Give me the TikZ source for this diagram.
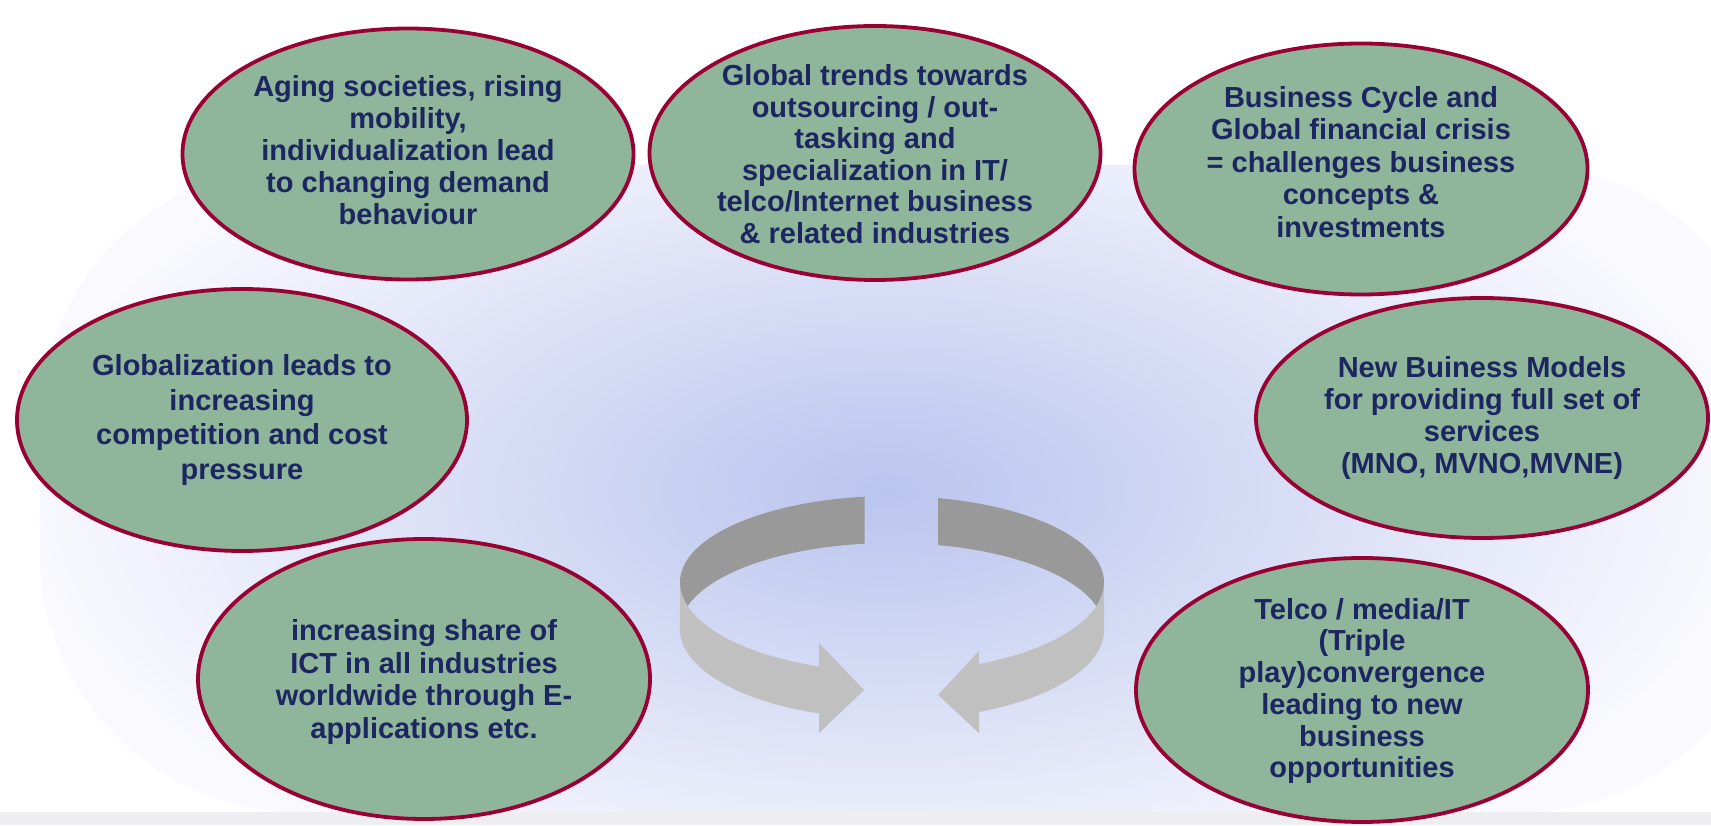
\documentclass[tikz,border=0pt]{standalone}
\usepackage{fontspec}
\setmainfont{Liberation Sans}
\usetikzlibrary{shapes.geometric}
\definecolor{ellfill}{RGB}{143,181,154}
\definecolor{ellline}{RGB}{153,0,51}
\definecolor{txt}{RGB}{28,38,96}
\definecolor{glow}{RGB}{186,197,238}
\definecolor{pale}{RGB}{250,250,254}
\definecolor{strip}{RGB}{238,238,241}
\definecolor{ringdark}{RGB}{153,153,153}
\definecolor{ringlight}{RGB}{192,192,192}
\begin{document}
\begin{tikzpicture}[x=1pt,y=1pt,
  bubble/.style={ellipse, draw=ellline, fill=ellfill, line width=3.8pt, inner sep=0pt},
  btxt/.style={text=txt, font=\bfseries\fontsize{29}{#1}\selectfont, align=center, inner sep=0pt},
  btxt/.default=32
]
\useasboundingbox (0,0) rectangle (1711,825);
\fill[white] (0,0) rectangle (1711,825);
\begin{scope}
  \clip[rounded corners=260pt] (40,13) rectangle (1780,660);
  \fill[pale] (0,0) rectangle (1711,825);
  \shade[inner color=glow, outer color=pale] (885,335) ellipse [x radius=880, y radius=440];
\end{scope}
\fill[strip] (0,0) rectangle (1711,13);

% circular arrows (back parts)
\fill[ringdark] (864.7,328.3) arc[start angle=97.4, end angle=180, x radius=212, y radius=86]
  -- ++(0,-47) arc[start angle=180, end angle=97.4, x radius=212, y radius=86] -- cycle;
\fill[ringdark] (938.2,326.9) arc[start angle=77.4, end angle=0, x radius=212, y radius=86]
  -- ++(0,-47) arc[start angle=0, end angle=77.4, x radius=212, y radius=86] -- cycle;
% front parts with heads
\fill[ringlight] (680,243) arc[start angle=180, end angle=249.9, x radius=212, y radius=90]
  -- (819,182) -- (864,135) -- (819,92) -- (819,111.5)
  arc[start angle=249.9, end angle=180, x radius=212, y radius=90] -- cycle;
\fill[ringlight] (1104,243) arc[start angle=360, end angle=294.2, x radius=212, y radius=90]
  -- (979,174) -- (938,130) -- (979,92) -- (979,113)
  arc[start angle=294.2, end angle=360, x radius=212, y radius=90] -- cycle;

% bubbles
\node[bubble, minimum width=451pt, minimum height=251pt] (e1) at (408,671) {};
\node[bubble, minimum width=451pt, minimum height=254pt] (e2) at (875,672) {};
\node[bubble, minimum width=453pt, minimum height=251pt] (e3) at (1361,656) {};
\node[bubble, minimum width=450pt, minimum height=262pt] (e4) at (242,405) {};
\node[bubble, minimum width=452pt, minimum height=240pt] (e5) at (1482,407) {};
\node[bubble, minimum width=452pt, minimum height=280pt] (e6) at (424,146) {};
\node[bubble, minimum width=452pt, minimum height=264pt] (e7) at (1362,135) {};

\node[btxt=32] (t1) at ([yshift=4pt]e1.center) {Aging societies, rising\\mobility,\\individualization lead\\to changing demand\\behaviour};
\node[btxt=31.5] (t2) at ([yshift=-1pt]e2.center) {Global trends towards\\outsourcing / out-\\tasking and\\specialization in IT/\\telco/Internet business\\\& related industries};
\node[btxt=32.5] (t3) at ([yshift=7pt]e3.center) {Business Cycle and\\Global financial crisis\\= challenges business\\concepts \&\\investments};
\node[btxt=34.7] (t4) at (e4.center) {Globalization leads to\\increasing\\competition and cost\\pressure};
\node[btxt=32] (t5) at (e5.center) {New Buiness Models\\for providing full set of\\services\\ (MNO, MVNO,MVNE)};
\node[btxt=32.7] (t6) at ([yshift=-3pt]e6.center) {increasing share of\\ICT in all industries\\worldwide through E-\\applications etc.};
\node[btxt=31.7] (t7) at ([yshift=-1pt]e7.center) {Telco / media/IT\\(Triple\\play)convergence\\leading to new\\business\\opportunities};
\end{tikzpicture}
\end{document}
